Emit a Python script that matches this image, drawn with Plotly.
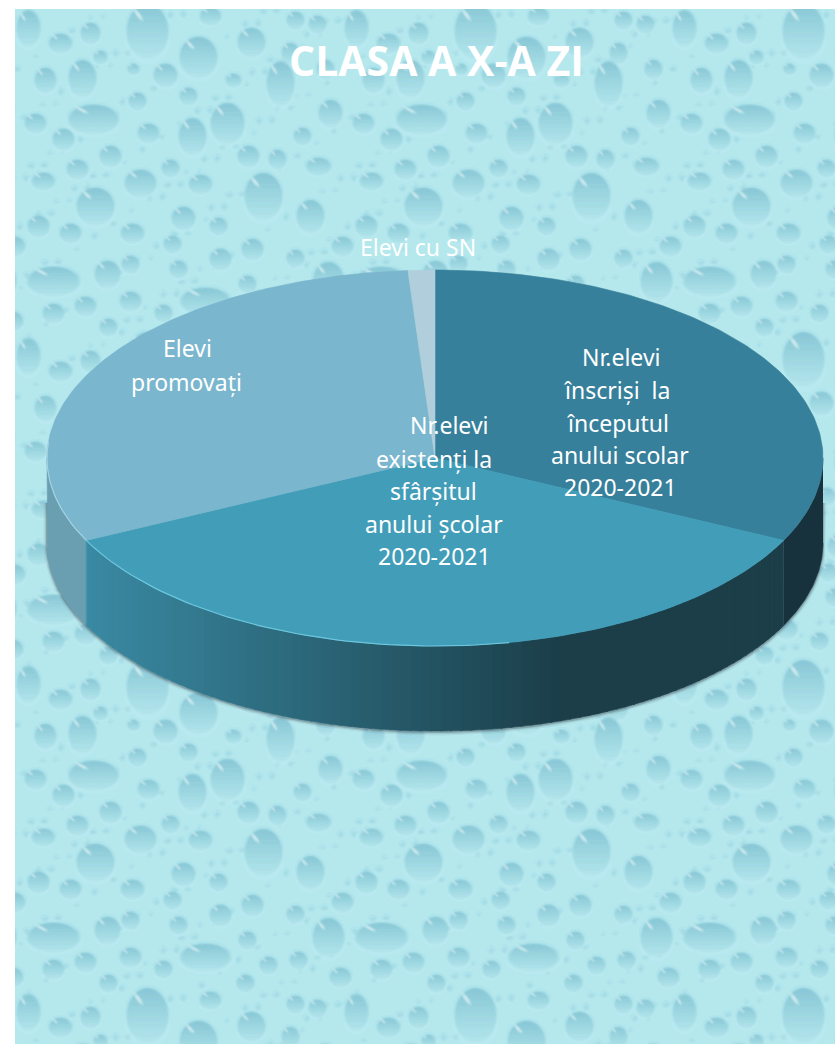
import base64, struct, zlib
import numpy as np
import plotly.graph_objects as go

# ---- chart data ----
categories = ["Nr.elevi înscriși la începutul anului scolar 2020-2021",
              "Nr.elevi existenți la sfârșitul anului școlar 2020-2021",
              "Elevi promovați",
              "Elevi cu SN"]
values = [29, 32, 28, 1]
title_text = "CLASA A X-A ZI"
label_lines = [
    ["Nr.elevi", "înscriși  la", "începutul", "anului scolar", "2020-2021"],
    ["Nr.elevi", "existenți la", "sfârșitul", "anului școlar", "2020-2021"],
    ["Elevi", "promovați"],
    ["Elevi cu SN"],
]
label_xy = [
    [(621, 357), (617, 390), (618, 423), (620, 455), (620, 487)],
    [(449, 425), (434, 459), (433, 491), (434, 524), (434, 556)],
    [(187, 348), (186, 382)],
    [(418, 247)],
]
top_colors = ["#37809B", "#429DB8", "#7AB6CD", "#B0CEDB"]

# ---- geometry of the tilted pie, in page pixels ----
W, H = 835, 1044
CX, CY, RX, RY, DEPTH = 435, 458, 388, 188, 85

# ---- decorative water-drop wallpaper (one 328 px tile, repeated) ----
TEXTURE_DROPS = [
    (78,110,27,16),(212,114,18,22),(177,127,15,20),(315,104,13,15),(95,147,12,12),
    (48,130,12,12),(20,114,12,11),(133,124,12,11),(122,92,10,10),(173,87,10,10),
    (233,147,12,12),(262,150,10,11),(287,127,10,10),(303,157,14,10),(62,160,12,11),
    (28,172,13,10),(125,174,17,15),(155,159,10,10),(185,175,13,11),(80,197,20,20),
    (248,187,20,25),(295,207,15,18),(168,209,13,13),(203,217,10,10),(23,217,12,12),
    (55,224,12,11),(117,224,13,11),(157,235,10,10),(115,255,10,10),(92,265,14,15),
    (38,272,28,16),(237,240,12,12),(205,250,12,12),(163,260,10,10),(232,275,10,10),
    (280,249,10,10),(327,237,12,11),(313,272,17,21),(190,292,27,15),(115,292,12,11),
    (70,297,12,11),(38,304,12,11),(148,304,10,10),(253,300,10,10),(283,295,10,10),
    (325,312,12,11),(230,318,10,10),(93,318,10,10),(132,22,22,29),(13,19,13,20),
    (75,24,11,12),(45,34,13,11),(183,48,20,22),(236,33,15,16),(195,7,12,10),
    (275,44,10,12),(302,15,10,10),(280,11,10,10),(67,69,15,20),(30,71,12,14),
    (150,66,13,13),(218,71,9,8),(265,74,15,24),(85,48,8,8),(118,60,7,7),(310,60,10,11),
]

def make_tile(n=328):
    yy, xx = np.mgrid[0:n, 0:n].astype(float)
    img = np.zeros((n, n, 3)) + np.array([180, 232, 239], float)
    base_top = np.array([132, 197, 213], float)
    base_bot = np.array([182, 232, 238], float)
    rim = np.array([200, 241, 245], float)
    small = [((i * 0.618034) % 1 * n, (i * 0.7548777) % 1 * n, 2.5 + i % 3, 2.5 + (i * 2) % 3, 0.55)
             for i in range(1, 170)]
    big = [(a, b, c, d, 0.95) for a, b, c, d in TEXTURE_DROPS]
    for cx, cy, rx, ry, strength in small + big:
        for ox in (-n, 0, n):
            for oy in (-n, 0, n):
                u = (xx - cx - ox) / rx
                v = (yy - cy - oy) / ry
                d = np.sqrt(u * u + v * v)
                if d.min() > 1.3:
                    continue
                rim_a = np.clip(1.22 - d, 0, 1) * 2.2 * np.clip((d - 0.75) * 3, 0, 1) * np.clip(v + 0.4, 0, 1)
                rim_a = np.clip(rim_a, 0, 0.55)[..., None]
                img = img * (1 - rim_a) + rim * rim_a
                a = (np.clip((1 - d) * min(rx, ry) * 0.45, 0, 1) * strength)[..., None]
                t = np.clip((v + 1) / 2, 0, 1)[..., None] ** 0.9
                col = base_top * (1 - t) + base_bot * t
                img = img * (1 - a) + col * a
                hx = (u + 0.42) * 0.72 + (v + 0.58) * 0.69
                hy = -(u + 0.42) * 0.69 + (v + 0.58) * 0.72
                h = np.sqrt((hx / 0.34) ** 2 + (hy / 0.10) ** 2)
                ha = (np.clip((1 - h) * 2.0, 0, 1) * 0.7 * strength)[..., None]
                img = img * (1 - ha) + np.array([232, 248, 250.0]) * ha
    for _ in range(2):
        img = sum(np.roll(np.roll(img, i, 0), j, 1) * w
                  for i, j, w in [(0,0,.4),(1,0,.15),(-1,0,.15),(0,1,.15),(0,-1,.15)])
    return img

def png_uri(arr):
    arr = np.clip(arr, 0, 255).astype(np.uint8) & 0xFC
    h, w, _ = arr.shape
    raw = b"".join(b"\x00" + arr[r].tobytes() for r in range(h))
    def chunk(t, d):
        return struct.pack(">I", len(d)) + t + d + struct.pack(">I", zlib.crc32(t + d) & 0xFFFFFFFF)
    data = (b"\x89PNG\r\n\x1a\n" + chunk(b"IHDR", struct.pack(">IIBBBBB", w, h, 8, 2, 0, 0, 0))
            + chunk(b"IDAT", zlib.compress(raw, 9)) + chunk(b"IEND", b""))
    return "data:image/png;base64," + base64.b64encode(data).decode()

BG_W, BG_H = W - 15, H - 9
wall = np.tile(make_tile(), (4, 3, 1))[:BG_H, :BG_W]

# ---- helpers: angles are clockwise from 12 o'clock ----
def ex(t):
    return (CX + RX * np.sin(np.radians(t))).tolist()

def ey(t, dy=0):
    return (CY - RY * np.cos(np.radians(t)) + dy).tolist()

def lerp(c1, c2, t):
    return "rgb(%d,%d,%d)" % tuple(round(a + (b - a) * t) for a, b in zip(c1, c2))

total = sum(values)
edges = np.cumsum([0] + values) / total * 360.0

fig = go.Figure()

def poly(x, y, color, name):
    fig.add_trace(go.Scatter(x=x, y=y, mode="lines", fill="toself", fillcolor=color,
                             line=dict(color=color, width=0.6), hoverinfo="skip",
                             name=name, showlegend=False))

# soft shadow hugging the lower outline
arc = np.linspace(90, 270, 200)
shadow_x = [CX + RX] + ex(arc) + [CX - RX]
shadow_y = [CY + 45] + ey(arc, DEPTH + 1) + [CY + 45]
for w_, op in [(7, 0.08), (4, 0.16), (2, 0.28)]:
    fig.add_trace(go.Scatter(x=shadow_x, y=shadow_y, mode="lines", hoverinfo="skip",
                             line=dict(color=f"rgba(70,80,85,{op})", width=w_), showlegend=False))

# side walls: first slice (right end) and third slice (left end)
def wall_poly(a, b, color, name):
    t = np.linspace(a, b, 60)
    poly(ex(t) + ex(t[::-1]), ey(t) + ey(t[::-1], DEPTH), color, name)

wall_poly(90, edges[1], "#17323D", categories[0])
wall_poly(edges[2], 270, "#6A9FB2", categories[2])

# second slice wall: colour runs from deep teal at the left to near-black at the right
steps = np.arange(edges[1], edges[2], 1.5)
for a in steps:
    b = min(a + 1.7, edges[2])
    mid = float(ex(np.array([(a + b) / 2]))[0])
    t = min(max((mid - 85) / (560 - 85), 0), 1)
    wall_poly(a, b, lerp((58, 138, 163), (27, 62, 73), t), categories[1])

# top faces
for i, name in enumerate(categories):
    t = np.linspace(edges[i], edges[i + 1], 120)
    poly([CX] + ex(t) + [CX], [CY] + ey(t) + [CY], top_colors[i], name)

# bright rim on the lower left of the top face
rim_t = np.linspace(edges[2] - 75, edges[2], 60)
fig.add_trace(go.Scatter(x=ex(rim_t), y=ey(rim_t), mode="lines", hoverinfo="skip",
                         line=dict(color="#6CC6DD", width=1.2), showlegend=False))
rim_t = np.linspace(edges[2], 275, 30)
fig.add_trace(go.Scatter(x=ex(rim_t), y=ey(rim_t), mode="lines", hoverinfo="skip",
                         line=dict(color="#A5D3E3", width=1.2), showlegend=False))

annotations = [dict(x=CX + 1, y=60, xref="x", yref="y", text=f"<b>{title_text}</b>", showarrow=False,
                    font=dict(family="Open Sans", size=41, color="white"), xanchor="center", yanchor="middle")]
for lines, pts in zip(label_lines, label_xy):
    for line, (x, y) in zip(lines, pts):
        annotations.append(dict(x=x, y=y, xref="x", yref="y", text=line.replace("  ", "&nbsp; "),
                                showarrow=False, xanchor="center", yanchor="middle",
                                font=dict(family="Noto Sans", size=23, color="white")))

fig.update_layout(
    width=W, height=H, autosize=False, margin=dict(l=0, r=0, t=0, b=0),
    paper_bgcolor="white", plot_bgcolor="white", showlegend=False,
    xaxis=dict(range=[0, W], visible=False, fixedrange=True),
    yaxis=dict(range=[H, 0], visible=False, fixedrange=True),
    annotations=annotations,
    images=[dict(source=png_uri(wall), xref="x", yref="y", x=15, y=9, sizex=BG_W, sizey=BG_H,
                 sizing="stretch", xanchor="left", yanchor="top", layer="below")],
)
fig.write_html("out.html", post_script="document.body.style.margin='0';document.body.style.overflow='hidden';",
               config={"displayModeBar": False})
